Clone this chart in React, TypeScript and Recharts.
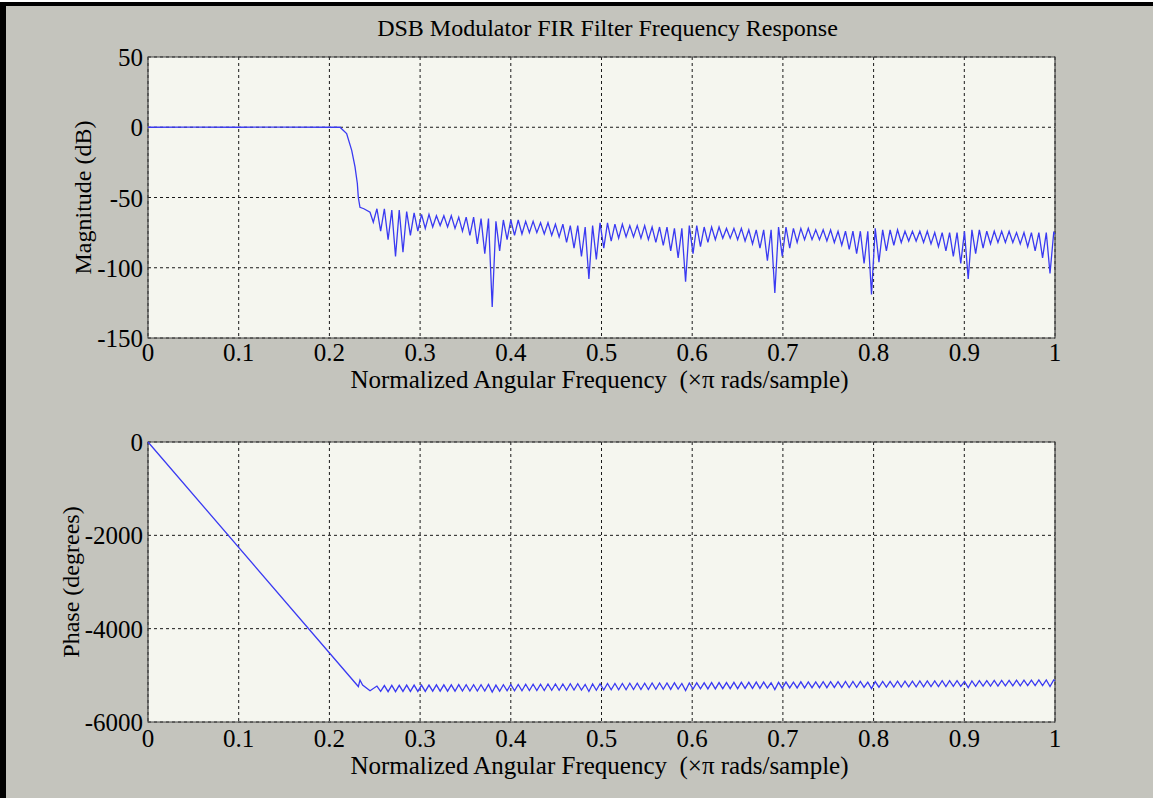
import React from 'react';
import { LineChart, Line, XAxis, YAxis, CartesianGrid, ReferenceArea, Label } from 'recharts';

// Axis ticks
const FREQ_TICKS = [0, 0.1, 0.2, 0.3, 0.4, 0.5, 0.6, 0.7, 0.8, 0.9, 1];
const MAG_TICKS = [-150, -100, -50, 0, 50];
const PHASE_TICKS = [-6000, -4000, -2000, 0];

// Passband + transition band, magnitude (dB)
const MAG_PASS_FREQ = [0, 0.05, 0.1, 0.15, 0.2, 0.2117, 0.219, 0.2246, 0.2282, 0.2308, 0.2319, 0.2337, 0.238, 0.2448, 0.2484];
const MAG_PASS_DB = [0, 0.1, 0, 0.1, 0, 0, -4.5, -16.4, -28, -40, -50, -57, -58, -60.5, -67.6];

// Stopband sidelobes: first lobe peak frequency and lobe spacing (x pi rad/sample)
const STOP_FIRST_PEAK = 0.2524;
const STOP_LOBE_WIDTH = 0.0082;

// Peak of each stopband lobe (dB)
const MAG_LOBE_PEAK_DB = [
  -58, -58, -59, -59, -60, -61, -62, -62, -63, -63, -63, -64, -64, -64, -65, -65,
  -67, -66, -66, -66, -67, -67, -68, -68, -69, -69, -70, -70, -71, -70,
  -68, -68, -69, -69, -70, -70, -70, -71, -71, -71, -72, -72,
  -70, -70, -71, -71, -71, -72, -72, -72, -73, -73, -73, -73,
  -71, -71, -72, -72, -72, -73, -73, -73, -74, -74, -74, -74, -74,
  -72, -73, -73, -73, -74, -74, -74, -74, -75, -75, -75, -75, -74,
  -73, -73, -74, -74, -74, -74, -75, -75, -75, -75, -75, -75,
];

// Null between consecutive lobes (dB)
const MAG_LOBE_NULL_DB = [
  -74, -80, -92, -89, -77, -74, -72, -71, -70, -71, -72, -74, -77, -83, -90, -128,
  -88, -80, -77, -76, -75, -75, -76, -77, -78, -82, -86, -92, -108,
  -94, -86, -81, -79, -78, -78, -79, -80, -82, -84, -88, -93, -110,
  -90, -85, -82, -80, -79, -79, -80, -81, -83, -86, -95, -118,
  -92, -86, -82, -80, -80, -80, -81, -82, -84, -87, -90, -97, -119,
  -96, -88, -84, -82, -81, -81, -82, -83, -85, -88, -92, -97, -108,
  -90, -86, -83, -82, -82, -82, -83, -85, -88, -93, -104,
];
const MAG_END_DB = -76;

// Phase (degrees): linear-phase passband, then zig-zag in the stopband
const PHASE_PASS_FREQ = [0, 0.2319, 0.2337, 0.2366, 0.2448];
const PHASE_PASS_DEG = [0, -5240, -5100, -5207, -5330];

const PHASE_LOBE_HIGH_DEG = [
  -5230, -5220, -5215, -5215, -5210, -5210,
  -5210, -5210, -5205, -5205, -5205, -5200, -5200, -5200, -5200, -5195, -5210, -5200,
  -5195, -5195, -5190, -5190, -5190, -5185, -5185, -5185, -5180, -5180, -5195, -5185,
  -5180, -5175, -5175, -5175, -5170, -5170, -5170, -5165, -5165, -5165, -5160, -5175,
  -5165, -5160, -5160, -5155, -5155, -5155, -5150, -5150, -5150, -5145, -5145, -5160,
  -5150, -5145, -5145, -5140, -5140, -5140, -5135, -5135, -5135, -5130, -5130, -5130, -5145,
  -5135, -5130, -5130, -5125, -5125, -5125, -5120, -5120, -5120, -5115, -5115, -5115, -5130,
  -5120, -5115, -5115, -5110, -5110, -5110, -5105, -5105, -5105, -5100, -5100, -5100,
];
const PHASE_LOBE_LOW_DEG = [
  -5345, -5350, -5350, -5345, -5345, -5345,
  -5345, -5340, -5340, -5340, -5340, -5335, -5335, -5335, -5335, -5360, -5340, -5330,
  -5330, -5330, -5325, -5325, -5325, -5320, -5320, -5320, -5315, -5315, -5345, -5320,
  -5315, -5310, -5310, -5310, -5305, -5305, -5305, -5300, -5300, -5300, -5295, -5325,
  -5295, -5290, -5290, -5290, -5285, -5285, -5285, -5280, -5280, -5280, -5275, -5305,
  -5275, -5270, -5270, -5270, -5265, -5265, -5265, -5260, -5260, -5260, -5255, -5255, -5285,
  -5255, -5250, -5250, -5250, -5245, -5245, -5245, -5240, -5240, -5240, -5235, -5235, -5265,
  -5235, -5230, -5230, -5230, -5225, -5225, -5225, -5220, -5220, -5220, -5240,
];
const PHASE_END_DEG = -5115;

// Build chart rows
const buildRows = (
  passFreq: number[],
  passVal: number[],
  peaks: number[],
  nulls: number[],
  endVal: number,
) => {
  const rows = passFreq.map((f, i) => ({ f, v: passVal[i] }));
  peaks.forEach((p, k) => {
    const fp = STOP_FIRST_PEAK + k * STOP_LOBE_WIDTH;
    rows.push({ f: fp, v: p });
    if (k < nulls.length) rows.push({ f: fp + STOP_LOBE_WIDTH / 2, v: nulls[k] });
  });
  rows.push({ f: 1, v: endVal });
  return rows;
};

const magData = buildRows(MAG_PASS_FREQ, MAG_PASS_DB, MAG_LOBE_PEAK_DB, MAG_LOBE_NULL_DB, MAG_END_DB);
const phaseData = buildRows(PHASE_PASS_FREQ, PHASE_PASS_DEG, PHASE_LOBE_HIGH_DEG, PHASE_LOBE_LOW_DEG, PHASE_END_DEG);

const FONT = '"Liberation Serif", "Times New Roman", serif';
const LINE_COLOR = '#3a3af2';
const X_TITLE = 'Normalized Angular Frequency\u00a0 (\u00d7\u03c0 rads/sample)';

const XTick = ({ x, y, payload, dy }: any) => (
  <text x={x} y={y + dy} textAnchor="middle" fontFamily={FONT} fontSize={25} fill="#000">
    {payload.value}
  </text>
);

const YTick = ({ x, y, payload }: any) => (
  <text x={x + 3} y={y} dy="0.36em" textAnchor="end" fontFamily={FONT} fontSize={25} fill="#000">
    {payload.value}
  </text>
);

const xTitle = (dy: number) => (props: any) => {
  const vb = props.viewBox;
  return (
    <text x={vb.x + vb.width / 2 - 2} y={vb.y + dy} textAnchor="middle" fontFamily={FONT} fontSize={25} fill="#000">
      {X_TITLE}
    </text>
  );
};

const yTitle = (text: string, gap: number) => (props: any) => {
  const vb = props.viewBox;
  const cx = vb.x + vb.width - gap;
  const cy = vb.y + vb.height / 2;
  return (
    <text x={cx} y={cy} transform={`rotate(-90 ${cx} ${cy})`} textAnchor="middle" fontFamily={FONT} fontSize={24} fill="#000">
      {text}
    </text>
  );
};

interface PanelProps {
  data: { f: number; v: number }[];
  top: number;
  height: number;
  margin: { top: number; right: number; bottom: number; left: number };
  yDomain: [number, number];
  yTicks: number[];
  yLabel: string;
  yGap: number;
  tickDy: number;
  titleDy: number;
}

const Panel: React.FC<PanelProps> = ({ data, top, height, margin, yDomain, yTicks, yLabel, yGap, tickDy, titleDy }) => (
  <div style={{ position: 'absolute', left: 0, top }}>
    <LineChart width={1153} height={height} data={data} margin={margin}>
      <CartesianGrid fill="#f5f6ef" stroke="#1a1a1a" strokeDasharray="3 3" />
      <XAxis
        type="number"
        dataKey="f"
        domain={[0, 1]}
        ticks={FREQ_TICKS}
        height={50}
        axisLine={false}
        tickLine={false}
        tick={<XTick dy={tickDy} />}
        interval={0}
      >
        <Label content={xTitle(titleDy)} />
      </XAxis>
      <YAxis
        type="number"
        domain={yDomain}
        ticks={yTicks}
        width={140}
        axisLine={false}
        tickLine={false}
        tick={<YTick />}
        interval={0}
      >
        <Label content={yTitle(yLabel, yGap)} />
      </YAxis>
      <ReferenceArea x1={0} x2={1} y1={yDomain[0]} y2={yDomain[1]} fill="none" stroke="#444" strokeWidth={1.2} />
      <Line
        type="linear"
        dataKey="v"
        stroke={LINE_COLOR}
        strokeWidth={1.3}
        dot={false}
        activeDot={false}
        isAnimationActive={false}
      />
    </LineChart>
  </div>
);

export default function App() {
  return (
    <div style={{ position: 'absolute', left: 0, top: 0, width: 1153, height: 798, background: '#fff', overflow: 'hidden' }}>
      <div
        style={{
          position: 'absolute',
          left: 0,
          top: 2,
          width: 1153,
          height: 796,
          background: '#c4c4bd',
          borderTop: '4px solid #000',
          borderLeft: '6px solid #000',
          boxSizing: 'border-box',
        }}
      />
      <div
        style={{
          position: 'absolute',
          left: 0,
          top: 16,
          width: 1215,
          textAlign: 'center',
          fontFamily: FONT,
          fontSize: 24,
          lineHeight: '24px',
          color: '#000',
        }}
      >
        DSB Modulator FIR Filter Frequency Response
      </div>
      <Panel
        data={magData}
        top={0}
        height={400}
        margin={{ top: 57, right: 98, bottom: 12, left: 8 }}
        yDomain={[-150, 50]}
        yTicks={MAG_TICKS}
        yLabel="Magnitude (dB)"
        yGap={57}
        tickDy={15}
        titleDy={50}
      />
      <Panel
        data={phaseData}
        top={400}
        height={398}
        margin={{ top: 42, right: 98, bottom: 26, left: 8 }}
        yDomain={[-6000, 0]}
        yTicks={PHASE_TICKS}
        yLabel="Phase (degrees)"
        yGap={69}
        tickDy={17}
        titleDy={52}
      />
    </div>
  );
}
